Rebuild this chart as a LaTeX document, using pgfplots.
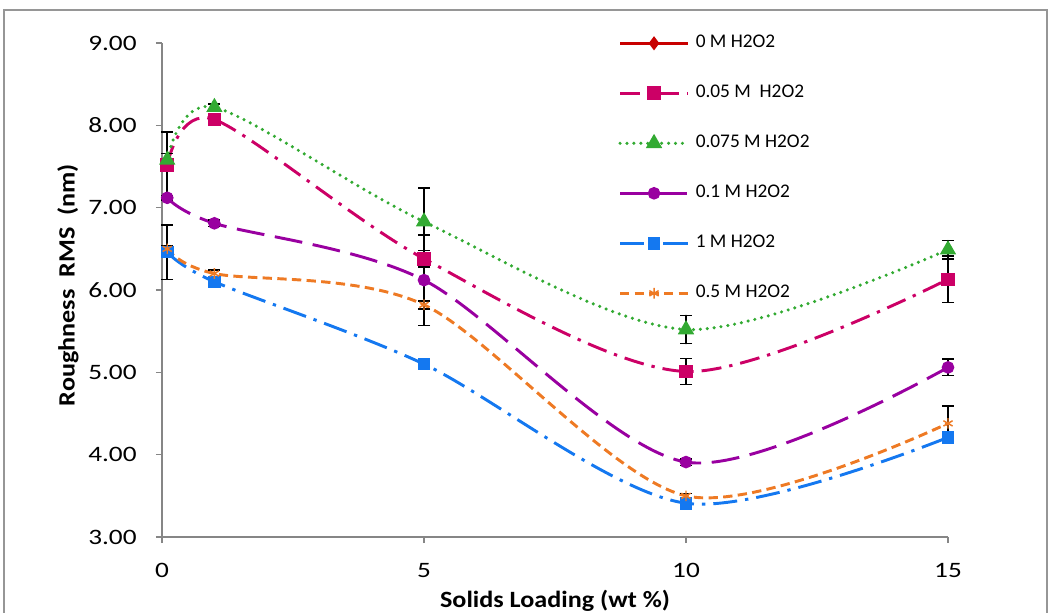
\documentclass[border=0pt]{standalone}
\usepackage{fontspec}
\setmainfont{Carlito}
\newfontfamily\tickfont{Carlito}[FakeStretch=1.24]
\newfontfamily\labelfont{Carlito}[FakeStretch=1.12]
\usepackage{pgfplots}
\pgfplotsset{compat=1.18}

\definecolor{cRed}{RGB}{200,0,0}
\definecolor{cMag}{RGB}{204,0,102}
\definecolor{cGreen}{RGB}{50,170,50}
\definecolor{cPurple}{RGB}{153,0,160}
\definecolor{cBlue}{RGB}{20,120,240}
\definecolor{cOrange}{RGB}{238,122,36}
\definecolor{axisgray}{RGB}{134,134,134}
\definecolor{framegray}{RGB}{150,150,150}

\pgfplotsset{
  errs/.style={
    error bars/.cd, y dir=both, y explicit,
    error bar style={black, solid, line width=1.2pt},
    error mark options={black, solid, line width=1.2pt, mark size=4.5pt, rotate=90},
  },
}

\begin{document}
\begin{tikzpicture}
\useasboundingbox (0,0) rectangle (787.5pt,459pt);
\begin{scope}
  \clip (0,0) rectangle (787.5pt,459pt);
  \draw[framegray, line width=1.1pt] (3pt,-10pt) -- (3pt,451.5pt) -- (785.25pt,451.5pt) -- (785.25pt,-10pt);
\end{scope}
\begin{axis}[
  scale only axis,
  width=589.5pt, height=370.5pt,
  at={(121.5pt,56.25pt)}, anchor=south west,
  xmin=0, xmax=15, ymin=3, ymax=9,
  axis x line*=bottom, axis y line*=left,
  axis line style={axisgray, line width=1.2pt, -},
  xtick={0,5,10,15}, ytick={3,4,...,9},
  tick align=outside, major tick length=4.5pt,
  tick style={axisgray, line width=1.2pt},
  /pgf/number format/assume math mode=true,
  ticklabel style={font=\tickfont\fontsize{16.5}{19}\selectfont, black},
  xticklabel style={yshift=-12pt},
  yticklabel style={xshift=-11pt, /pgf/number format/.cd, fixed, fixed zerofill, precision=2},
  xlabel={\textbf{Solids Loading (wt \%)}},
  ylabel={\textbf{Roughness\ \ RMS\ \ (nm)}},
  label style={font=\labelfont\fontsize{17.5}{20}\selectfont},
  xlabel style={at={(axis description cs:0.5,-0.1285)}, anchor=center},
  ylabel style={at={(axis description cs:-0.1196,0.51)}, anchor=center},
  legend style={at={(axis description cs:0.5802,1.0175)}, anchor=north west,
    draw=none, fill=none, inner sep=0pt,
    font=\fontsize{14.5}{17}\selectfont,
    row sep=24.5pt,
    nodes={inner sep=0pt, text height=10pt, text depth=3pt},
    /tikz/every odd column/.append style={column sep=4.5pt}},
  legend cell align=left,
  legend image code/.code={\draw[mark repeat=2,mark phase=2,#1] plot coordinates {(0pt,0pt) (25.5pt,0pt) (51pt,0pt)};},
  clip=false,
]

% 0 M H2O2 (legend only)
\addlegendimage{cRed, solid, line width=2.2pt, mark=diamond*, mark size=3.5pt, mark options={solid}}
\addlegendentry{0 M H2O2}

% 0.05 M H2O2
\addplot[cMag, line width=2.2pt, smooth, dash pattern=on 15pt off 6pt on 2.5pt off 6pt,
  mark=square*, mark size=4pt, mark options={solid}, errs]
  table[x=x, y=y, y error=e, row sep=\\] {
  x y e \\
  0.1 7.52 0.40 \\
  1 8.07 0.05 \\
  5 6.38 0.10 \\
  10 5.01 0.16 \\
  15 6.13 0.28 \\
};
\addlegendentry{0.05 M\ \ H2O2}

% 0.075 M H2O2
\addplot[cGreen, line width=2.6pt, smooth, line cap=round, dash pattern=on 0pt off 5.2pt,
  mark=triangle*, mark size=4.5pt, mark options={solid}, errs]
  table[x=x, y=y, y error=e, row sep=\\] {
  x y e \\
  0.1 7.58 0.08 \\
  1 8.22 0.04 \\
  5 6.83 0.41 \\
  10 5.52 0.17 \\
  15 6.49 0.11 \\
};
\addlegendentry{0.075 M H2O2}

% 0.1 M H2O2
\addplot[cPurple, line width=2.2pt, smooth, dash pattern=on 21pt off 8pt,
  mark=*, mark size=3.6pt, mark options={solid}, errs]
  table[x=x, y=y, y error=e, row sep=\\] {
  x y e \\
  0.1 7.12 0.03 \\
  1 6.81 0.04 \\
  5 6.12 0.55 \\
  10 3.91 0.04 \\
  15 5.06 0.10 \\
};
\addlegendentry{0.1 M H2O2}

% 1 M H2O2
\addplot[cBlue, line width=2.2pt, smooth, dash pattern=on 18pt off 6pt on 2.5pt off 6pt,
  mark=square*, mark size=3.6pt, mark options={solid}, errs]
  table[x=x, y=y, y error=e, row sep=\\] {
  x y e \\
  0.1 6.46 0.33 \\
  1 6.10 0.06 \\
  5 5.10 0.05 \\
  10 3.41 0.05 \\
  15 4.21 0.05 \\
};
\addlegendentry{1 M H2O2}

% 0.5 M H2O2
\addplot[cOrange, line width=2.2pt, smooth, dash pattern=on 7pt off 4pt,
  mark=asterisk, mark size=4pt, mark options={solid, line width=1.1pt}, errs]
  table[x=x, y=y, y error=e, row sep=\\] {
  x y e \\
  0.1 6.50 0.04 \\
  1 6.20 0.04 \\
  5 5.82 0.05 \\
  10 3.50 0.03 \\
  15 4.38 0.21 \\
};
\addlegendentry{0.5 M H2O2}

\end{axis}
\end{tikzpicture}
\end{document}
